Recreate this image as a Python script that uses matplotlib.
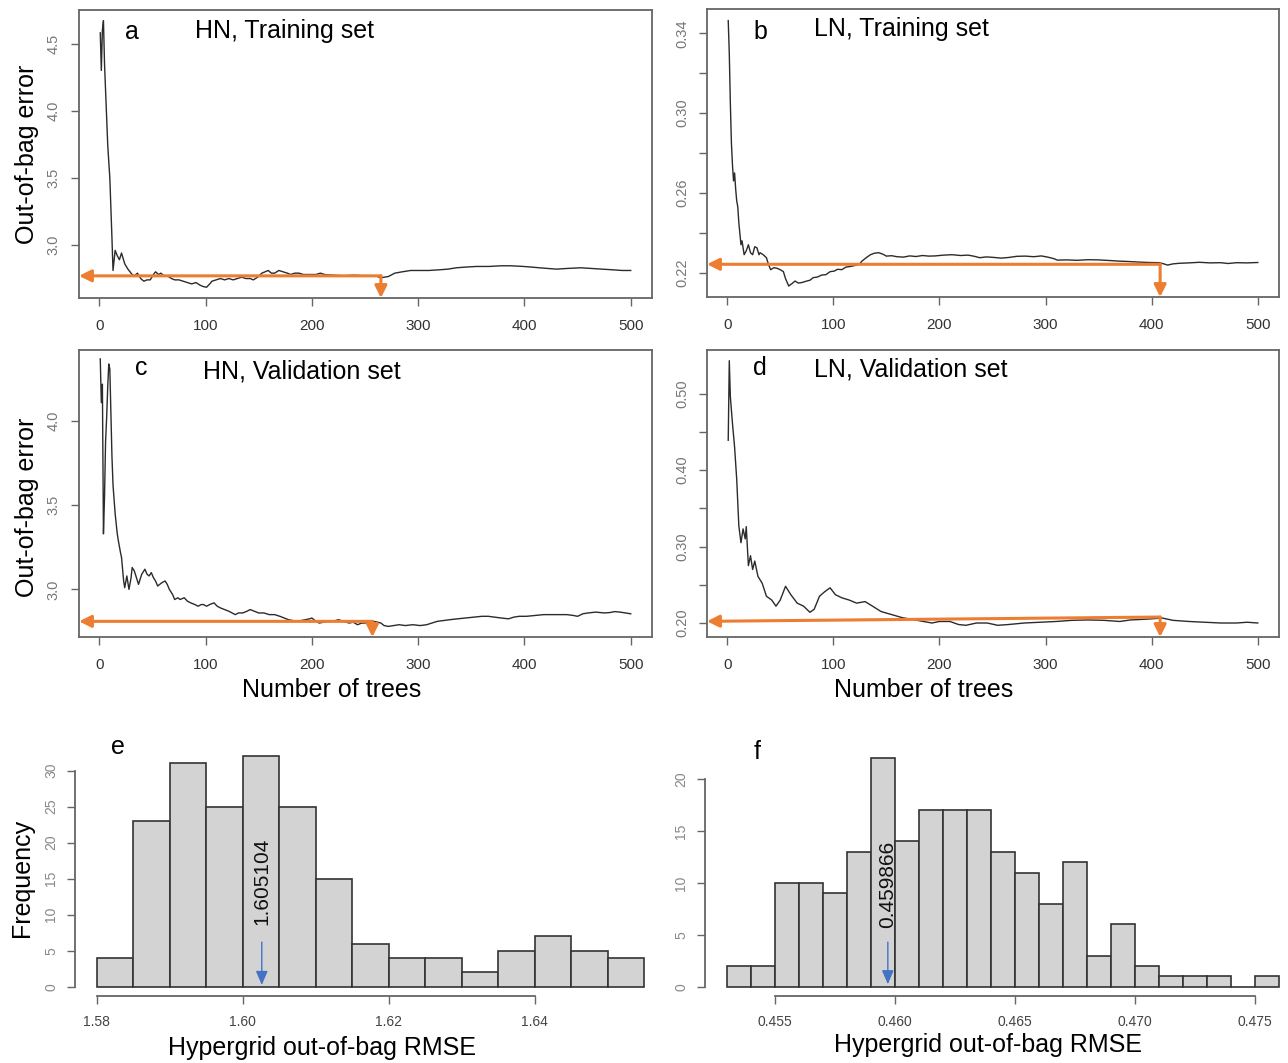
import matplotlib
matplotlib.use('Agg')
import matplotlib.pyplot as plt
from matplotlib import font_manager

# ---- data ----
# a: HN, training set
a_trees = [1, 2, 3, 4, 5, 7, 8, 9, 10, 12, 13, 15, 17, 19, 21, 24, 27, 31, 33, 36, 39, 42, 45, 48,
           51, 53, 56, 58, 61, 64, 68, 71, 75, 79, 83, 87, 91, 95, 98, 101, 104, 106, 110, 114, 118,
           122, 126, 130, 134, 138, 142, 145, 149, 153, 156, 159, 162, 165, 169, 173, 177, 180, 184,
           188, 192, 196, 200, 204, 208, 212, 220, 230, 240, 250, 260, 265, 268, 272, 278, 285, 293,
           300, 310, 320, 328, 336, 344, 355, 367, 378, 387, 399, 407, 414, 422, 430, 440, 453, 463,
           473, 483, 492, 500]
a_err = [4.58, 4.30, 4.60, 4.67, 4.35, 3.95, 3.75, 3.62, 3.50, 3.05, 2.81, 2.96, 2.92, 2.89, 2.94,
         2.86, 2.82, 2.78, 2.77, 2.79, 2.75, 2.73, 2.74, 2.74, 2.78, 2.80, 2.78, 2.79, 2.77, 2.77,
         2.75, 2.74, 2.74, 2.73, 2.72, 2.71, 2.72, 2.70, 2.69, 2.685, 2.71, 2.73, 2.74, 2.75, 2.74,
         2.75, 2.74, 2.75, 2.76, 2.75, 2.75, 2.74, 2.76, 2.79, 2.80, 2.81, 2.79, 2.79, 2.81, 2.80,
         2.79, 2.78, 2.79, 2.79, 2.78, 2.78, 2.78, 2.78, 2.79, 2.78, 2.775, 2.77, 2.775, 2.77, 2.77,
         2.755, 2.76, 2.765, 2.79, 2.80, 2.81, 2.81, 2.81, 2.815, 2.82, 2.83, 2.835, 2.84, 2.84,
         2.845, 2.845, 2.84, 2.835, 2.83, 2.825, 2.82, 2.825, 2.83, 2.825, 2.82, 2.815, 2.81, 2.81]

# b: LN, training set
b_trees = [1, 2, 3, 4, 5, 6, 7, 8, 9, 10, 11, 13, 14, 16, 18, 20, 22, 24, 26, 28, 30, 31, 34, 37,
           39, 41, 44, 47, 50, 53, 55, 58, 61, 64, 67, 70, 75, 78, 81, 85, 89, 93, 97, 101, 104,
           108, 112, 117, 122, 125, 127, 131, 135, 139, 143, 147, 150, 155, 160, 166, 172, 178, 184,
           190, 196, 204, 212, 220, 227, 233, 238, 244, 250, 258, 265, 273, 281, 289, 296, 302, 308,
           311, 320, 330, 340, 350, 360, 369, 378, 388, 398, 407, 411, 415, 420, 426, 435, 445, 455,
           465, 472, 480, 490, 500]
b_err = [0.3464, 0.330, 0.305, 0.285, 0.274, 0.266, 0.270, 0.262, 0.256, 0.253, 0.245, 0.234,
         0.236, 0.229, 0.231, 0.234, 0.230, 0.229, 0.233, 0.2325, 0.229, 0.230, 0.229, 0.2275,
         0.224, 0.2215, 0.2225, 0.2222, 0.2215, 0.2205, 0.217, 0.2133, 0.2145, 0.2158, 0.2148,
         0.215, 0.2158, 0.2162, 0.2175, 0.2178, 0.2188, 0.219, 0.2205, 0.2208, 0.2217, 0.2215,
         0.2228, 0.2232, 0.2238, 0.2245, 0.2258, 0.2275, 0.229, 0.2298, 0.230, 0.2292, 0.2283,
         0.2285, 0.228, 0.2278, 0.2284, 0.2281, 0.2286, 0.2283, 0.2284, 0.2288, 0.229, 0.2286,
         0.2288, 0.2282, 0.2275, 0.2279, 0.2277, 0.2273, 0.2276, 0.2282, 0.2283, 0.228, 0.2284,
         0.2278, 0.227, 0.2263, 0.2264, 0.2262, 0.2265, 0.2264, 0.2261, 0.2258, 0.2256, 0.2253,
         0.2251, 0.225, 0.2245, 0.2238, 0.2244, 0.2247, 0.2249, 0.2252, 0.2249, 0.225, 0.2246,
         0.225, 0.2249, 0.2251]

# c: HN, validation set
c_trees = [1, 2, 3, 4, 5, 6, 7, 8, 9, 10, 11, 12, 13, 15, 17, 18, 20, 21, 23, 24, 26, 28, 30, 31,
           33, 34, 36, 37, 40, 43, 45, 47, 49, 51, 53, 55, 57, 59, 62, 64, 66, 69, 71, 74, 76, 80,
           83, 86, 90, 93, 96, 98, 101, 104, 108, 111, 114, 118, 122, 125, 128, 131, 135, 139, 142,
           146, 150, 155, 160, 165, 170, 174, 178, 182, 186, 190, 194, 198, 200, 204, 207, 211, 215,
           220, 225, 230, 235, 239, 243, 247, 250, 254, 258, 262, 265, 268, 272, 277, 282, 288, 295,
           302, 308, 313, 318, 324, 330, 337, 345, 352, 360, 366, 372, 378, 385, 390, 395, 402, 410,
           418, 425, 432, 440, 446, 450, 455, 460, 467, 475, 480, 485, 490, 495, 500]
c_err = [4.37, 4.11, 4.22, 3.33, 3.55, 3.88, 4.02, 4.20, 4.34, 4.31, 4.05, 3.79, 3.62, 3.45, 3.33,
         3.29, 3.22, 3.19, 3.05, 3.01, 3.08, 3.00, 3.07, 3.13, 3.11, 3.09, 3.05, 3.03, 3.09, 3.12,
         3.09, 3.08, 3.10, 3.07, 3.05, 3.02, 3.03, 3.04, 3.05, 3.03, 3.00, 2.97, 2.94, 2.95, 2.94,
         2.95, 2.93, 2.92, 2.91, 2.90, 2.91, 2.91, 2.90, 2.91, 2.92, 2.90, 2.89, 2.88, 2.87, 2.86,
         2.85, 2.86, 2.86, 2.87, 2.88, 2.87, 2.86, 2.86, 2.85, 2.85, 2.84, 2.83, 2.82, 2.815, 2.81,
         2.815, 2.82, 2.825, 2.83, 2.81, 2.80, 2.805, 2.81, 2.81, 2.82, 2.81, 2.80, 2.805, 2.79,
         2.80, 2.80, 2.81, 2.81, 2.805, 2.80, 2.785, 2.78, 2.785, 2.79, 2.785, 2.79, 2.785, 2.79,
         2.80, 2.81, 2.815, 2.82, 2.825, 2.83, 2.835, 2.84, 2.84, 2.835, 2.83, 2.825, 2.835, 2.84,
         2.84, 2.845, 2.85, 2.85, 2.85, 2.85, 2.845, 2.84, 2.855, 2.86, 2.865, 2.86, 2.862, 2.868,
         2.865, 2.86, 2.855]

# d: LN, validation set
d_trees = [1, 2, 3, 5, 7, 9, 11, 13, 15, 17, 18, 20, 22, 24, 26, 29, 33, 37, 42, 46, 50, 55, 60,
           66, 72, 78, 82, 87, 92, 97, 102, 108, 115, 122, 130, 137, 145, 155, 165, 175, 185, 193,
           200, 210, 218, 225, 235, 245, 255, 265, 280, 295, 310, 325, 340, 355, 370, 380, 395, 410,
           420, 435, 450, 465, 480, 490, 500]
d_err = [0.439, 0.543, 0.496, 0.461, 0.430, 0.388, 0.327, 0.305, 0.323, 0.310, 0.326, 0.275, 0.288,
         0.270, 0.281, 0.261, 0.252, 0.235, 0.230, 0.222, 0.230, 0.248, 0.237, 0.226, 0.222, 0.214,
         0.218, 0.235, 0.241, 0.246, 0.237, 0.233, 0.230, 0.226, 0.228, 0.222, 0.215, 0.211, 0.207,
         0.2045, 0.202, 0.200, 0.202, 0.202, 0.198, 0.197, 0.200, 0.200, 0.197, 0.198, 0.200, 0.201,
         0.202, 0.2035, 0.204, 0.2035, 0.202, 0.204, 0.205, 0.2065, 0.2035, 0.202, 0.201, 0.200,
         0.200, 0.201, 0.200]

# chosen number of trees and its error (orange arrows)
best_trees = {'a': 265, 'b': 408, 'c': 257, 'd': 408}
best_err = {'a': 2.77, 'b': 0.2242, 'c': 2.81, 'd': 0.2078}
best_err_left = {'a': 2.77, 'b': 0.2242, 'c': 2.81, 'd': 0.2022}

# e / f: histograms of hypergrid RMSE
e_start, e_width = 1.580, 0.005
e_counts = [4, 23, 31, 25, 32, 25, 15, 6, 4, 4, 2, 5, 7, 5, 4]
e_best_label = '1.605104'
e_best_x = 1.6026

f_start, f_width = 0.453, 0.001
f_counts = [2, 2, 10, 10, 9, 13, 22, 14, 17, 17, 17, 13, 11, 8, 12, 3, 6, 2, 1, 1, 1, 0, 1]
f_best_label = '0.459866'
f_best_x = 0.4597

# ---- style ----
W, H = 1288, 1063
names = {f.name for f in font_manager.fontManager.ttflist}
narrow = 'Liberation Sans Narrow' if 'Liberation Sans Narrow' in names else 'Liberation Sans'
plt.rcParams['font.family'] = ['Liberation Sans', 'DejaVu Sans']

orange = '#ED7D31'
blue = '#4472C4'
frame = '#666666'

fig = plt.figure(figsize=(W / 100, H / 100), dpi=100)


def px_axes(l, t, r, b):
    return fig.add_axes([l / W, 1 - b / H, (r - l) / W, (b - t) / H])


def px_text(x, y, s, **kw):
    fig.text(x / W, 1 - y / H, s, **kw)


def curve_panel(ax, x, y, ylim, yticks, ylabels, key):
    ax.plot(x, y, color='#2b2b2b', lw=1.0, zorder=2)
    ax.set_xlim(-19, 520)
    ax.set_ylim(*ylim)
    ax.set_xticks([0, 100, 200, 300, 400, 500])
    ax.set_xticklabels(['0', '100', '200', '300', '400', '500'], family=narrow,
                       fontsize=11, color='#333333')
    ax.set_yticks(yticks)
    ax.set_yticklabels(ylabels, rotation=90, va='center', family=narrow,
                       fontsize=10.5, color='#777777')
    ax.tick_params(axis='x', direction='out', length=6, width=1, color=frame, pad=9)
    ax.tick_params(axis='y', direction='out', length=6, width=1, color=frame, pad=7)
    for s in ax.spines.values():
        s.set_color(frame)
        s.set_linewidth(1.3)

    bx, by, byl = best_trees[key], best_err[key], best_err_left[key]
    head = '-|>,head_length=0.6,head_width=0.3'
    ax.annotate('', xy=(-19, byl), xytext=(bx, by),
                arrowprops=dict(arrowstyle=head, color=orange, lw=2.2, mutation_scale=12,
                                shrinkA=0, shrinkB=0), zorder=3)
    ax.annotate('', xy=(bx, ylim[0]), xytext=(bx, by),
                arrowprops=dict(arrowstyle=head, color=orange, lw=2.2, mutation_scale=12,
                                shrinkA=0, shrinkB=0), zorder=3)


ax_a = px_axes(79, 10, 652, 298)
curve_panel(ax_a, a_trees, a_err, (2.605, 4.75), [3.0, 3.5, 4.0, 4.5],
            ['3.0', '3.5', '4.0', '4.5'], 'a')

ax_b = px_axes(707, 9, 1279, 297)
curve_panel(ax_b, b_trees, b_err, (0.2078, 0.3522),
            [0.22, 0.24, 0.26, 0.28, 0.30, 0.32, 0.34],
            ['0.22', '', '0.26', '', '0.30', '', '0.34'], 'b')

ax_c = px_axes(79, 350, 652, 637)
curve_panel(ax_c, c_trees, c_err, (2.717, 4.423), [3.0, 3.5, 4.0],
            ['3.0', '3.5', '4.0'], 'c')

ax_d = px_axes(707, 350, 1279, 637)
curve_panel(ax_d, d_trees, d_err, (0.1817, 0.557),
            [0.20, 0.25, 0.30, 0.35, 0.40, 0.45, 0.50],
            ['0.20', '', '0.30', '', '0.40', '', '0.50'], 'd')


def hist_panel(ax, start, width, counts, xlim, ylim, xticks, xlabels, yticks, best_x, best_label,
               label_y, arrow_top):
    edges = [start + i * width for i in range(len(counts))]
    ax.bar(edges, counts, width=width, align='edge', color='#D3D3D3',
           edgecolor='#333333', linewidth=1.2)
    ax.set_xlim(*xlim)
    ax.set_ylim(*ylim)
    for s in ['top', 'right']:
        ax.spines[s].set_visible(False)
    for s in ['left', 'bottom']:
        ax.spines[s].set_color(frame)
        ax.spines[s].set_linewidth(1.3)
    ax.spines['left'].set_bounds(yticks[0], yticks[-1])
    ax.spines['bottom'].set_bounds(xticks[0], xticks[-1])
    ax.set_xticks(xticks)
    ax.set_xticklabels(xlabels, family=narrow, fontsize=10, color='#444444')
    ax.set_yticks(yticks)
    ax.set_yticklabels([str(v) for v in yticks], rotation=90, va='center', family=narrow,
                       fontsize=10, color='#888888')
    ax.tick_params(axis='x', direction='out', length=6, width=1, color=frame, pad=8)
    ax.tick_params(axis='y', direction='out', length=6, width=1, color=frame, pad=6)
    ax.annotate('', xy=(best_x, 0.25), xytext=(best_x, arrow_top),
                arrowprops=dict(arrowstyle='-|>,head_length=0.7,head_width=0.3', color=blue,
                                lw=1.0, mutation_scale=12, shrinkA=0, shrinkB=0))
    ax.text(best_x, label_y, best_label, rotation=90, ha='center', va='bottom',
            fontsize=15, color='#111111')


ax_e = px_axes(75, 747, 666, 996)
hist_panel(ax_e, e_start, e_width, e_counts, (1.577, 1.658), (-1.28, 33.28),
           [1.58, 1.60, 1.62, 1.64], ['1.58', '1.60', '1.62', '1.64'],
           [0, 5, 10, 15, 20, 25, 30], e_best_x, e_best_label, 8.6, 6.2)

ax_f = px_axes(705, 749, 1301, 996)
hist_panel(ax_f, f_start, f_width, f_counts, (0.45208, 0.47692), (-0.88, 22.88),
           [0.455, 0.460, 0.465, 0.470, 0.475], ['0.455', '0.460', '0.465', '0.470', '0.475'],
           [0, 5, 10, 15, 20], f_best_x, f_best_label, 5.65, 4.3)

# ---- panel text ----
big = 18
px_text(132, 32, 'a', ha='center', va='center', fontsize=big)
px_text(195, 31, 'HN, Training set', ha='left', va='center', fontsize=big)
px_text(760, 32, 'b', ha='center', va='center', fontsize=big)
px_text(814, 29, 'LN, Training set', ha='left', va='center', fontsize=big)
px_text(141, 368, 'c', ha='center', va='center', fontsize=big)
px_text(203, 371, 'HN, Validation set', ha='left', va='center', fontsize=big)
px_text(760, 368, 'd', ha='center', va='center', fontsize=big)
px_text(814, 370, 'LN, Validation set', ha='left', va='center', fontsize=big)
px_text(118, 747, 'e', ha='center', va='center', fontsize=big)
px_text(757, 752, 'f', ha='center', va='center', fontsize=big)

px_text(27, 154, 'Out-of-bag error', ha='center', va='center', rotation=90, fontsize=big)
px_text(27, 507, 'Out-of-bag error', ha='center', va='center', rotation=90, fontsize=big)
px_text(332, 690, 'Number of trees', ha='center', va='center', fontsize=big)
px_text(924, 690, 'Number of trees', ha='center', va='center', fontsize=big)
px_text(22, 878, 'Frequency', ha='center', va='center', rotation=90, fontsize=big)
px_text(322, 1048, 'Hypergrid out-of-bag RMSE', ha='center', va='center', fontsize=big)
px_text(988, 1045, 'Hypergrid out-of-bag RMSE', ha='center', va='center', fontsize=big)

fig.savefig('out.png', dpi=100)
